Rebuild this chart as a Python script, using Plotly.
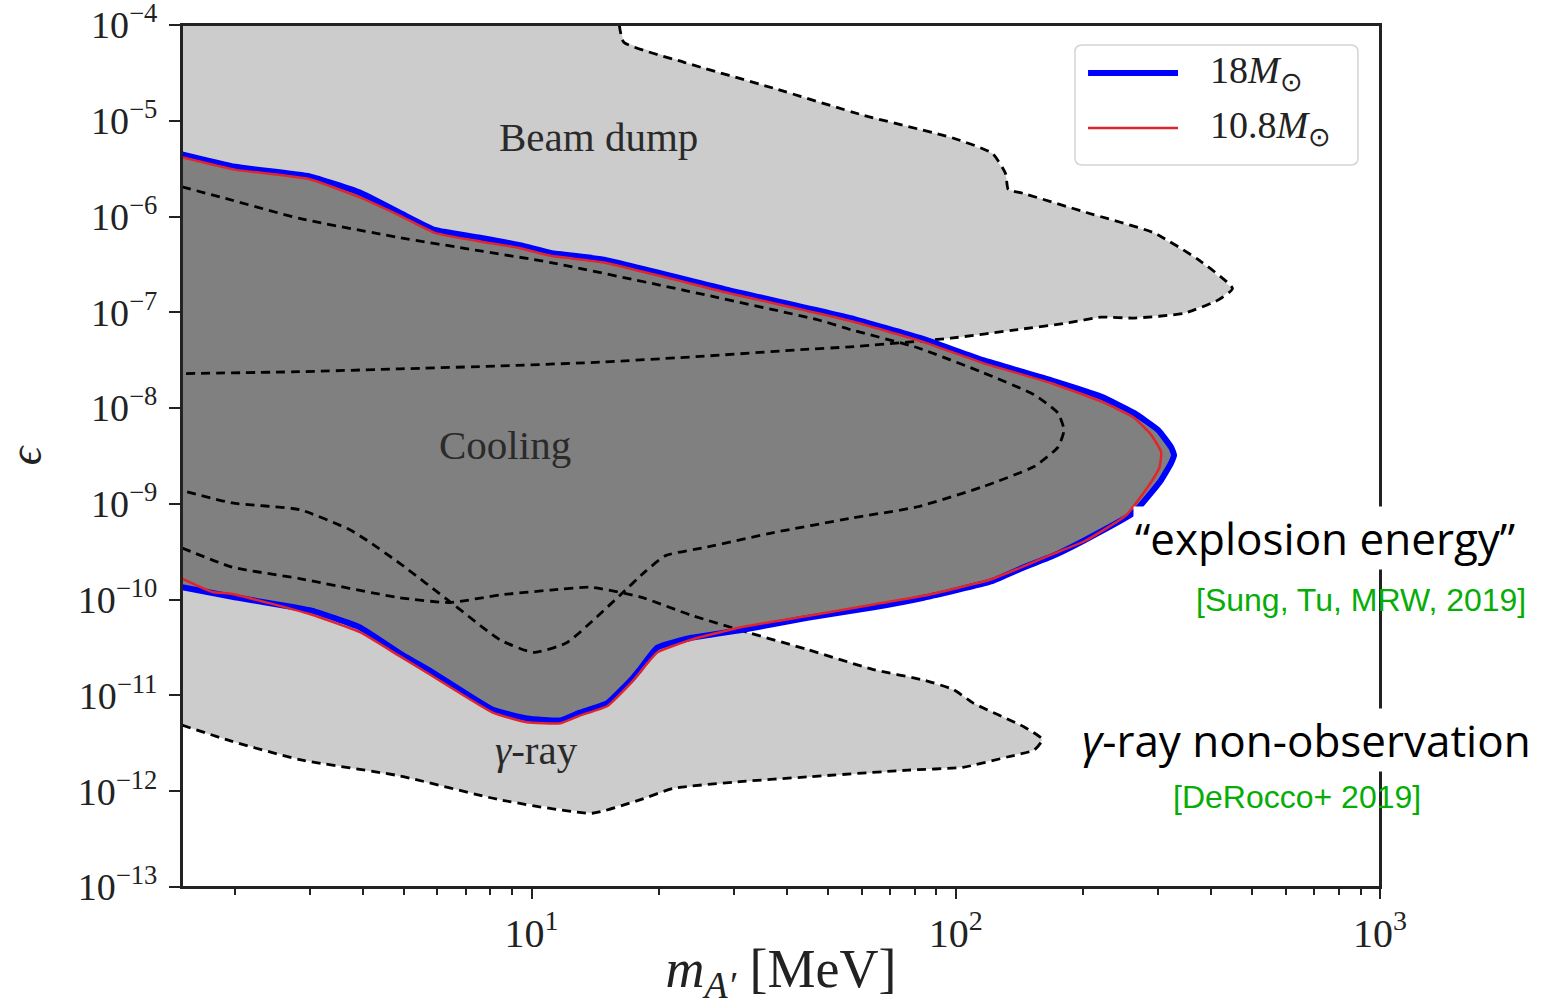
import math
import plotly.graph_objects as go

# ---------------- data (m in MeV, eps given as log10 exponent) ----------------
X_MIN, X_MAX = 1.5, 1000.0
Y_MIN_EXP, Y_MAX_EXP = -13, -4

# Beam dump excluded region: outer dashed boundary, from top edge round the tip back to left edge
bd_m = [16.1, 16.5, 22.9, 37.2, 60.3, 98.4, 122, 131, 133, 142, 204, 293, 373, 449,
        416, 345, 263, 220, 184, 140, 97.3, 56.5, 43.1, 25.0, 14.5, 8.43, 4.89, 2.84, 1.5]
bd_log_eps = [-4.0, -4.18, -4.39, -4.66, -4.94, -5.18, -5.34, -5.55, -5.72, -5.75, -5.96, -6.17, -6.45, -6.75,
              -6.87, -7.01, -7.06, -7.05, -7.11, -7.18, -7.27, -7.36, -7.39, -7.46, -7.52, -7.56, -7.59, -7.62, -7.64]

# gamma-ray excluded region: lower boundary to the tip, then upper boundary back to left edge
gr_m = [1.5, 1.97, 2.84, 4.89, 8.43, 13.9, 18.0, 21.6, 31.0, 44.7, 77.1, 104, 133, 153, 160,
        145, 110, 98.9, 84.0, 64.0, 44.7, 32.8, 23.7, 18.0, 13.7, 11.1, 8.43, 6.42, 4.89, 2.84, 1.97, 1.5]
gr_log_eps = [-11.31, -11.48, -11.67, -11.84, -12.09, -12.23, -12.09, -11.97, -11.90, -11.85, -11.78, -11.75, -11.64, -11.57, -11.46,
              -11.33, -11.08, -10.94, -10.84, -10.73, -10.52, -10.35, -10.16, -9.97, -9.87, -9.90, -9.95, -10.03, -9.98, -9.78, -9.66, -9.46]

# other SN cooling bound (dashed outline only)
sn_m = [1.5, 1.97, 2.84, 4.89, 7.36, 11.1, 22.9, 47.5, 56.5, 81.3, 116, 153, 174, 180,
        174, 153, 116, 81.3, 56.5, 37.2, 26.0, 20.7, 18.5, 16.2, 12.1, 10.1, 8.43, 6.42, 4.89, 4.09, 3.73, 2.84, 1.97, 1.5]
sn_log_eps = [-5.69, -5.83, -6.02, -6.22, -6.35, -6.48, -6.77, -7.08, -7.18, -7.37, -7.63, -7.86, -8.05, -8.23,
              -8.41, -8.61, -8.82, -9.03, -9.15, -9.30, -9.45, -9.54, -9.71, -9.95, -10.45, -10.55, -10.42, -10.02, -9.62, -9.38, -9.27, -9.06, -8.99, -8.86]

# cooling ("explosion energy") bound, 18 Msun
m18_m = [1.5, 2.0, 3.0, 3.94, 4.89, 5.91, 7.56, 9.39, 11.1, 14.8, 29.3, 56.5, 82.7, 116, 168, 220, 263, 300, 322,
         327, 322, 305, 263, 201, 168, 145, 121, 84.0, 64.0, 44.7, 31.0, 23.7, 19.8, 18.0, 17.4, 15.1, 13.0, 11.7,
         9.75, 8.11, 5.85, 4.89, 3.94, 3.0, 1.97, 1.5]
m18_log_eps = [-5.35, -5.48, -5.58, -5.75, -5.96, -6.14, -6.22, -6.30, -6.38, -6.45, -6.77, -7.06, -7.27, -7.50, -7.71, -7.88, -8.05, -8.23, -8.41,
               -8.49, -8.57, -8.75, -9.09, -9.38, -9.55, -9.66, -9.81, -9.98, -10.08, -10.19, -10.32, -10.40, -10.50, -10.73, -10.81, -11.08, -11.18, -11.26,
               -11.24, -11.15, -10.76, -10.56, -10.29, -10.11, -9.97, -9.87]

# cooling bound, 10.8 Msun
m108_m = [1.5, 2.0, 3.0, 3.94, 4.89, 5.91, 7.56, 9.39, 11.1, 14.8, 29.3, 56.5, 82.7, 116, 168, 220, 263, 289, 305, 302,
          286, 252, 201, 168, 145, 121, 84.0, 64.0, 44.7, 31.0, 23.7, 19.8, 18.0, 17.4, 15.1, 13.0, 11.7, 9.75, 8.11, 5.85,
          4.89, 3.94, 3.0, 1.97, 1.77, 1.5]
m108_log_eps = [-5.38, -5.51, -5.61, -5.80, -5.99, -6.17, -6.26, -6.33, -6.41, -6.48, -6.80, -7.09, -7.30, -7.53, -7.74, -7.93, -8.10, -8.28, -8.46, -8.62,
                -8.80, -9.12, -9.39, -9.53, -9.65, -9.79, -9.96, -10.05, -10.17, -10.29, -10.42, -10.55, -10.76, -10.84, -11.11, -11.21, -11.29, -11.28, -11.18, -10.80,
                -10.59, -10.34, -10.15, -9.94, -9.92, -9.78]

series_names = ["18<i>M</i><sub>⊙</sub>", "10.8<i>M</i><sub>⊙</sub>"]

# region labels (m [MeV], log10 eps)
region_labels = ["Beam dump", "Cooling", "<i>γ</i>-ray"]
region_label_m = [14.4, 8.66, 10.3]
region_label_log_eps = [-5.17, -8.38, -11.57]

# tick labels
x_tick_vals = [10, 100, 1000]
x_tick_text = ["10<sup>1</sup>", "10<sup>2</sup>", "10<sup>3</sup>"]
y_tick_exps = list(range(-13, -3))
y_tick_vals = [10.0 ** e for e in y_tick_exps]
y_tick_text = ["10<sup>−%d</sup>" % abs(e) for e in y_tick_exps]
x_minor_vals = [d * 10 ** k for k in range(0, 3) for d in range(2, 10) if d * 10 ** k > X_MIN]

# ---------------- styles ----------------
LIGHT = "#cccccc"
DARK = "#808080"
BLUE = "#0000ff"
RED = "#e0262b"
AXC = "#222222"
SERIF = "Liberation Serif"
DASH = "9px,6px"


def ev(a):
    return [10.0 ** v for v in a]


fig = go.Figure()

# light grey: beam dump fill (closed along the top-left corner)
fig.add_trace(go.Scatter(x=bd_m + [X_MIN], y=ev(bd_log_eps) + [10.0 ** Y_MAX_EXP], fill="toself",
                         fillcolor=LIGHT, mode="lines", line=dict(width=0), hoverinfo="skip"))
# light grey: gamma-ray fill
fig.add_trace(go.Scatter(x=gr_m, y=ev(gr_log_eps), fill="toself", fillcolor=LIGHT, mode="lines",
                         line=dict(width=0), hoverinfo="skip"))
# dark grey: cooling fill
fig.add_trace(go.Scatter(x=m18_m, y=ev(m18_log_eps), fill="toself", fillcolor=DARK, mode="lines",
                         line=dict(width=0, shape="spline", smoothing=0.4), hoverinfo="skip"))

# dashed outlines
for xs, ys in [(bd_m, bd_log_eps), (gr_m, gr_log_eps), (sn_m, sn_log_eps)]:
    fig.add_trace(go.Scatter(x=xs, y=ev(ys), mode="lines", hoverinfo="skip",
                             line=dict(color="black", width=2.8, dash=DASH, shape="spline", smoothing=0.5)))

# bounds
fig.add_trace(go.Scatter(x=m18_m, y=ev(m18_log_eps), mode="lines", name=series_names[0],
                         line=dict(color=BLUE, width=6, shape="spline", smoothing=0.4)))
fig.add_trace(go.Scatter(x=m108_m, y=ev(m108_log_eps), mode="lines", name=series_names[1],
                         line=dict(color=RED, width=2.5, shape="spline", smoothing=0.4)))

# region labels inside the plot
for txt, m, le in zip(region_labels, region_label_m, region_label_log_eps):
    fig.add_annotation(x=math.log10(m), y=le, xref="x", yref="y", text=txt, showarrow=False,
                       xanchor="center", yanchor="middle",
                       font=dict(family=SERIF, size=41, color="#2a2a2a"))

# plot frame (drawn explicitly so the top edge is always visible)
fig.add_shape(type="rect", xref="paper", yref="paper", x0=0, x1=1, y0=0, y1=1,
              line=dict(color=AXC, width=2), layer="above")

# ---------------- legend (drawn by hand so the line samples are long) ----------------
lx0, lx1, ly0, ly1 = 0.7454, 0.9816, 0.8376, 0.9768
rx, ry = 0.006, 0.008
path = ("M %f,%f L %f,%f Q %f,%f %f,%f L %f,%f Q %f,%f %f,%f L %f,%f Q %f,%f %f,%f L %f,%f Q %f,%f %f,%f Z" % (
    lx0 + rx, ly0, lx1 - rx, ly0, lx1, ly0, lx1, ly0 + ry, lx1, ly1 - ry, lx1, ly1, lx1 - rx, ly1,
    lx0 + rx, ly1, lx0, ly1, lx0, ly1 - ry, lx0, ly0 + ry, lx0, ly0, lx0 + rx, ly0))
fig.add_shape(type="path", path=path, xref="paper", yref="paper", fillcolor="rgba(255,255,255,0.9)",
              line=dict(color="#d4d4d4", width=1.5), layer="above")
leg_y = [0.9443, 0.8805]
for name, col, w, yy in zip(series_names, [BLUE, RED], [6, 2.5], leg_y):
    fig.add_shape(type="line", xref="paper", yref="paper", x0=0.7563, x1=0.8314, y0=yy, y1=yy,
                  line=dict(color=col, width=w), layer="above")
    fig.add_annotation(xref="paper", yref="paper", x=0.8564, y=yy, xanchor="left", yanchor="middle",
                       text=name, showarrow=False, font=dict(family=SERIF, size=38, color="#222"))

# ---------------- side annotations ----------------
SANS = "Open Sans"
GREEN = "#06ad06"
side_notes = [
    ("“explosion energy”", 0.954, 0.405, dict(family=SANS, size=44, color="black"), "white"),
    ("[Sung, Tu, MRW, 2019]", 0.984, 0.333, dict(family="Liberation Sans", size=32, color=GREEN), None),
    ("<i>γ</i>-ray non-observation", 0.939, 0.1705, dict(family=SANS, size=44, color="black"), "white"),
    ("[DeRocco+ 2019]", 0.931, 0.104, dict(family="Liberation Sans", size=32, color=GREEN), None),
]
for txt, xx, yy, fnt, bg in side_notes:
    kw = dict(bgcolor=bg) if bg else {}
    fig.add_annotation(xref="paper", yref="paper", x=xx, y=yy, xanchor="center", yanchor="middle",
                       text=txt, showarrow=False, font=fnt, **kw)

# ---------------- axes ----------------
fig.update_xaxes(type="log", range=[math.log10(X_MIN), math.log10(X_MAX)],
                 showline=True, linecolor=AXC, linewidth=2, mirror=True,
                 ticks="outside", ticklen=10, tickwidth=1.5, tickcolor=AXC,
                 tickmode="array", tickvals=x_tick_vals, ticktext=x_tick_text,
                 tickfont=dict(family=SERIF, size=40, color="#222"), ticklabeloverflow="allow",
                 minor=dict(tickmode="array", tickvals=x_minor_vals, ticks="outside", ticklen=6,
                            tickwidth=1.5, tickcolor=AXC, showgrid=False),
                 showgrid=False, zeroline=False,
                 title=dict(text="<i>m</i><sub><i>A′</i></sub> [MeV]", standoff=0,
                            font=dict(family=SERIF, size=54, color="#222")))
fig.update_yaxes(type="log", range=[Y_MIN_EXP, Y_MAX_EXP],
                 showline=True, linecolor=AXC, linewidth=2, mirror=True,
                 ticks="outside", ticklen=11, tickwidth=1.5, tickcolor=AXC,
                 tickmode="array", tickvals=y_tick_vals, ticktext=y_tick_text,
                 tickfont=dict(family=SERIF, size=38, color="#222"), ticklabelstandoff=4,
                 ticklabeloverflow="allow",
                 showgrid=False, zeroline=False,
                 title=dict(text="<i>ϵ</i>", standoff=30, font=dict(family=SERIF, size=46, color="#222")))

fig.update_layout(width=1553, height=1006, showlegend=False,
                  margin=dict(l=182, r=173, t=25, b=119, autoexpand=False),
                  paper_bgcolor="white", plot_bgcolor="white")

# remove the default 8px page margin so the figure fills the window exactly; no mode bar
fig.write_html("out.html", config={"displayModeBar": False},
               post_script="document.body.style.margin='0';document.body.style.overflow='hidden';")
